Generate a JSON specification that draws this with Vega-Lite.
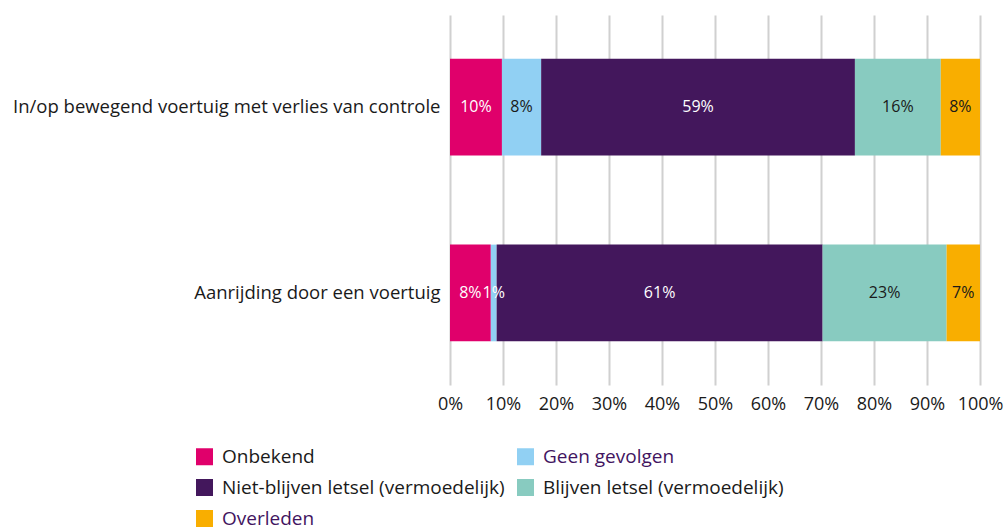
{
  "$schema": "https://vega.github.io/schema/vega-lite/v6.json",
  "width": 530,
  "height": 370,
  "autosize": {"type": "none"},
  "padding": {"left": 450, "top": 15, "right": 26, "bottom": 142},
  "background": "white",
  "config": {
    "font": "Open Sans",
    "view": {"stroke": null},
    "axis": {"labelFont": "Open Sans", "labelColor": "#1a1a1a"}
  },
  "data": {
    "values": [
      {"cat": "In/op bewegend voertuig met verlies van controle", "gevolg": "Onbekend", "k": 1, "v": 9.8, "label": "10%"},
      {"cat": "In/op bewegend voertuig met verlies van controle", "gevolg": "Geen gevolgen", "k": 2, "v": 7.4, "label": "8%"},
      {"cat": "In/op bewegend voertuig met verlies van controle", "gevolg": "Niet-blijven letsel (vermoedelijk)", "k": 3, "v": 59.2, "label": "59%"},
      {"cat": "In/op bewegend voertuig met verlies van controle", "gevolg": "Blijven letsel (vermoedelijk)", "k": 4, "v": 16.2, "label": "16%"},
      {"cat": "In/op bewegend voertuig met verlies van controle", "gevolg": "Overleden", "k": 5, "v": 7.4, "label": "8%"},
      {"cat": "Aanrijding door een voertuig", "gevolg": "Onbekend", "k": 1, "v": 7.7, "label": "8%"},
      {"cat": "Aanrijding door een voertuig", "gevolg": "Geen gevolgen", "k": 2, "v": 1.1, "label": "1%"},
      {"cat": "Aanrijding door een voertuig", "gevolg": "Niet-blijven letsel (vermoedelijk)", "k": 3, "v": 61.5, "label": "61%"},
      {"cat": "Aanrijding door een voertuig", "gevolg": "Blijven letsel (vermoedelijk)", "k": 4, "v": 23.4, "label": "23%"},
      {"cat": "Aanrijding door een voertuig", "gevolg": "Overleden", "k": 5, "v": 6.3, "label": "7%"}
    ]
  },
  "transform": [
    {"stack": "v", "groupby": ["cat"], "sort": [{"field": "k", "order": "ascending"}], "offset": "normalize", "as": ["x0", "x1"]},
    {"calculate": "(datum.x0 + datum.x1) / 2", "as": "xm"}
  ],
  "encoding": {
    "y": {
      "field": "cat",
      "type": "nominal",
      "sort": ["In/op bewegend voertuig met verlies van controle", "Aanrijding door een voertuig"],
      "scale": {"paddingInner": 0.48, "paddingOuter": 0.235},
      "axis": {"title": null, "domain": false, "ticks": false, "labelFontSize": 18.5, "labelPadding": 10, "labelLimit": 460, "labelColor": "#1a1a1a"}
    }
  },
  "layer": [
    {
      "mark": {"type": "bar"},
      "encoding": {
        "x": {
          "field": "x0",
          "type": "quantitative",
          "scale": {"domain": [0, 1], "nice": false},
          "axis": {"title": null, "format": ".0%", "values": [0, 0.1, 0.2, 0.3, 0.4, 0.5, 0.6, 0.7, 0.8, 0.9, 1], "domain": false, "ticks": false, "grid": true, "gridColor": "#d0d0d0", "gridWidth": 2, "labelFontSize": 18, "labelPadding": 10, "labelColor": "#1a1a1a", "labelFlush": false}
        },
        "x2": {"field": "x1"},
        "color": {
          "field": "gevolg",
          "type": "nominal",
          "sort": ["Onbekend", "Geen gevolgen", "Niet-blijven letsel (vermoedelijk)", "Blijven letsel (vermoedelijk)", "Overleden"],
          "scale": {
            "domain": ["Onbekend", "Geen gevolgen", "Niet-blijven letsel (vermoedelijk)", "Blijven letsel (vermoedelijk)", "Overleden"],
            "range": ["#e0006b", "#91d0f3", "#43175c", "#88cbc0", "#f9ae00"]
          },
          "legend": {
            "title": null,
            "orient": "none",
            "legendX": -255,
            "legendY": 432,
            "direction": "horizontal",
            "columns": 2,
            "columnPadding": 11,
            "rowPadding": 11,
            "symbolType": "square",
            "symbolSize": 289,
            "symbolStrokeWidth": 0,
            "labelFontSize": 19,
            "labelFont": "Open Sans",
            "labelOffset": 8,
            "labelLimit": 400,
            "encode": {
              "labels": {
                "update": {
                  "fill": {"signal": "indexof(['Geen gevolgen','Overleden'], datum.label) >= 0 ? '#42145f' : '#1a1a1a'"}
                }
              },
              "symbols": {"update": {"opacity": {"value": 1}, "fillOpacity": {"value": 1}}}
            }
          }
        }
      }
    },
    {
      "mark": {"type": "text", "fontSize": 16, "font": "Open Sans"},
      "encoding": {
        "x": {"field": "xm", "type": "quantitative"},
        "text": {"field": "label", "type": "nominal"},
        "color": {
          "condition": {"test": "datum.k == 1 || datum.k == 3 || datum.v < 2", "value": "#ffffff"},
          "value": "#1a1a1a"
        }
      }
    }
  ]
}
